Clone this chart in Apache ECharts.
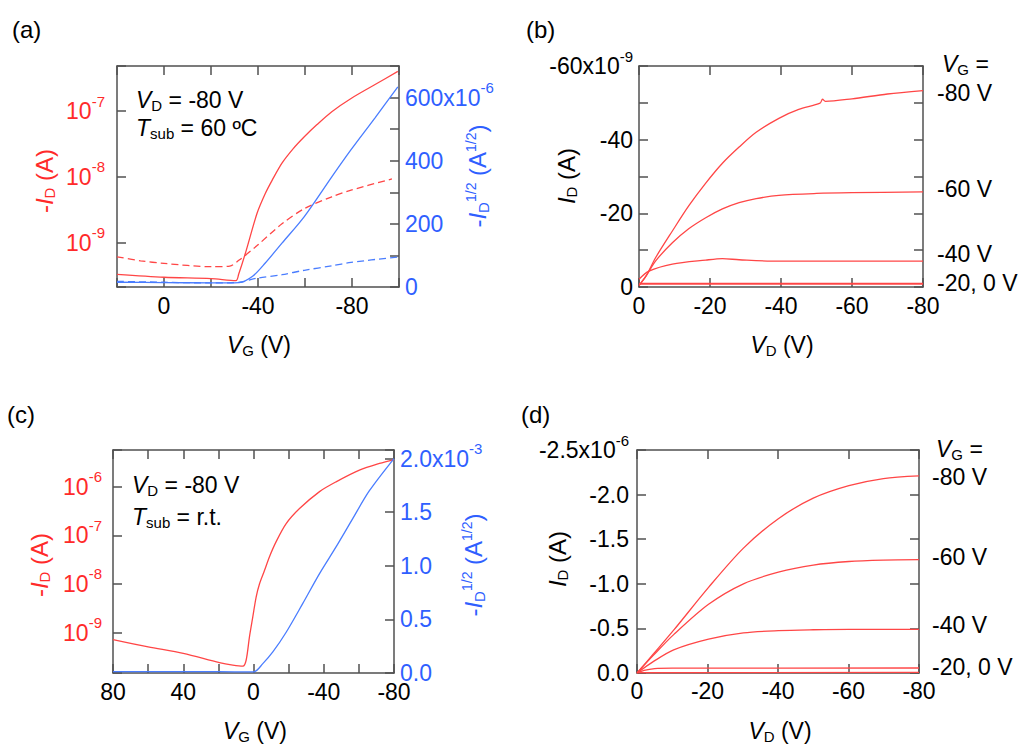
<!DOCTYPE html>
<html><head><meta charset="utf-8">
<script src="https://cdn.jsdelivr.net/npm/echarts@6/dist/echarts.min.js"></script>
<style>html,body{margin:0;padding:0;background:#fff;}#c{width:1024px;height:752px;}</style>
</head><body><div id="c"></div>
<script>
// ---------------- DATA ----------------
// Panel (a): transfer curve, VD = -80 V, Tsub = 60 C
const aSolidVG = [20, 0, -20, -30.6, -31.8, -34.6, -39.6, -43.1, -46, -50.2, -55, -59.7, -65, -71.4, -79.6, -90, -99.5];
const aSolidId = [3.34e-10, 3.02e-10, 2.88e-10, 2.69e-10, 3.39e-10, 6.92e-10, 2.82e-9, 5.62e-9, 8.9e-9, 1.62e-8, 2.69e-8, 4.07e-8, 6.17e-8, 9.77e-8, 1.55e-7, 2.54e-7, 3.98e-7];
const aDashVG = [20, 10, 0, -20, -28, -32, -39.6, -50.2, -59.7, -71.4, -79.6, -97];
const aDashId = [6.17e-10, 5.37e-10, 4.9e-10, 4.37e-10, 4.47e-10, 5.5e-10, 9.12e-10, 1.95e-9, 3.31e-9, 5.01e-9, 6.31e-9, 9.33e-9];
const aSqrtSolidVG = [20, 0, -20, -32, -37.7, -43.1, -50.2, -59.7, -71.4, -79.6, -89.8, -99.5];
const aSqrtSolid = [15, 14, 13, 14, 34, 76, 139, 223, 349, 435, 536, 634];      // x1e-6 A^1/2
const aSqrtDashVG = [20, 0, -20, -32, -39.6, -50.2, -59.7, -71.4, -79.6, -99.5];
const aSqrtDash = [18, 15, 13, 15, 28, 39, 53, 67, 78, 95];                       // x1e-6 A^1/2
const aXTicks = [0, -40, -80];

// Panel (b): output curves, x1e-9 A
const bVD80 = [0, -2, -4.7, -9.4, -14, -18.8, -23.5, -28.2, -33, -39.4, -45, -51, -51.7, -52.5, -60, -70, -80];
const bId80 = [-0.4, -3, -8, -15.2, -22, -28.2, -33.6, -38.0, -42.0, -45.8, -48.2, -49.9, -51.0, -50.4, -51.1, -52.4, -53.3];
const bVD60 = [0, -2, -4.7, -9.4, -14, -18.8, -23.5, -28.2, -33, -39.4, -50, -60, -80];
const bId60 = [-0.4, -3, -7.1, -12, -15.8, -18.8, -21.2, -22.9, -24.0, -24.9, -25.4, -25.6, -25.8];
const bVD40 = [0, -2.8, -9.4, -18.8, -23.5, -28.2, -39.4, -60, -80];
const bId40 = [-2.1, -4.3, -6.2, -7.3, -7.7, -7.4, -7.0, -7.0, -7.0];
const bVD20 = [0, -80];
const bId20 = [-1.0, -1.0];
const bVD0 = [0, -80];
const bId0 = [-0.8, -0.8];

// Panel (c): transfer curve, VD = -80 V, Tsub = r.t.
const cVG = [80, 60, 40, 19.4, 11.8, 6, 4.2, 2.3, 0.4, -1.5, -3.4, -6.3, -9.1, -12.9, -18.6, -26.2, -37.6, -47, -60.3, -71.7, -80];
const cId = [7.18e-10, 5.07e-10, 3.72e-10, 2.4e-10, 2.14e-10, 2.04e-10, 2.69e-10, 8.13e-10, 2.09e-9, 5.37e-9, 1.0e-8, 1.91e-8, 3.63e-8, 7.41e-8, 1.74e-7, 3.55e-7, 7.94e-7, 1.26e-6, 2.19e-6, 3.02e-6, 3.63e-6];
const cSqrtVG = [80, 40, 20, 0, -5.3, -11, -18.6, -28, -37.6, -47, -56.5, -66, -80];
const cSqrt = [0.012, 0.012, 0.012, 0.01, 0.087, 0.196, 0.38, 0.647, 0.927, 1.176, 1.44, 1.70, 2.0];   // x1e-3 A^1/2
const cXTicks = [80, 40, 0, -40, -80];

// Panel (d): output curves, x1e-6 A
const dVD = [0, -4.7, -10.4, -20.3, -30.2, -40.1, -50, -60.1, -69.9, -80];
const dId80 = [0, -0.216, -0.48, -0.96, -1.40, -1.73, -1.96, -2.10, -2.18, -2.21];
const dId60 = [0, -0.2, -0.43, -0.77, -1.00, -1.13, -1.21, -1.25, -1.265, -1.27];
const dId40 = [0, -0.13, -0.26, -0.38, -0.45, -0.475, -0.485, -0.49, -0.49, -0.49];
const dVD20 = [0, -2, -5, -10, -80];
const dId20 = [0, -0.03, -0.05, -0.055, -0.056];
const dVD0 = [0, -80];
const dId0 = [-0.003, -0.007];

const vgLabels = ['-80 V', '-60 V', '-40 V', '-20, 0 V'];

// ---------------- STYLE ----------------
const FONT = '"Liberation Sans", Arial, Helvetica, sans-serif';
const RED_LINE = '#ff4646', RED_TXT = '#ff2a2a', BLUE_LINE = '#4a7dff', BLUE_TXT = '#2f5fff', AXC = '#505050';
const FS = 23;

function supRich(color) {
  return { s: { fontSize: 15, fontFamily: FONT, color: color, verticalAlign: 'top', padding: [0, 0, 20, 0] } };
}
function axis(o) {
  const lab = Object.assign({ show: true, fontFamily: FONT, fontSize: FS, color: '#000', margin: 7 }, o.axisLabel || {});
  lab.rich = supRich(lab.color);
  const a = Object.assign({
    type: 'value',
    axisLine: { show: true, onZero: false, lineStyle: { color: AXC, width: 1.5 } },
    axisTick: { show: true, inside: true, length: 9, lineStyle: { color: AXC, width: 1.5 } },
    splitLine: { show: false }
  }, o);
  a.axisLabel = lab;
  return a;
}
const zip = (xs, ys) => xs.map((x, i) => [x, ys[i]]);
function line(xs, ys, xi, yi, color, dashed) {
  return { type: 'line', xAxisIndex: xi, yAxisIndex: yi, data: zip(xs, ys),
    showSymbol: false, symbol: 'none', smooth: 0.3,
    lineStyle: { color: color, width: 1.3, type: dashed ? [7, 4] : 'solid' }, itemStyle: { color: color } };
}
const logFmt = v => { const l = Math.log10(v), r = Math.round(l); return Math.abs(l - r) < 1e-6 ? '10{s|' + r + '}' : ''; };

const grids = [
  { left: 117, top: 66, width: 282, height: 221 },
  { left: 639, top: 66, width: 284, height: 221 },
  { left: 113, top: 450, width: 281, height: 223 },
  { left: 637, top: 450, width: 282, height: 223 }
];

const xAxis = [
  axis({ gridIndex: 0, position: 'bottom', min: -100, max: 20, interval: 20, inverse: true,
    axisLabel: { margin: 7, formatter: v => aXTicks.indexOf(v) >= 0 ? String(v) : '' } }),
  axis({ gridIndex: 0, position: 'top', min: -100, max: 20, interval: 20, inverse: true, axisLabel: { show: false } }),
  axis({ gridIndex: 1, position: 'bottom', min: -80, max: 0, interval: 20, inverse: true, axisLabel: { margin: 7 } }),
  axis({ gridIndex: 1, position: 'top', min: -80, max: 0, interval: 20, inverse: true, axisLabel: { show: false } }),
  axis({ gridIndex: 2, position: 'bottom', min: -80, max: 80, interval: 20, inverse: true,
    axisLabel: { margin: 7, formatter: v => cXTicks.indexOf(v) >= 0 ? String(v) : '' } }),
  axis({ gridIndex: 2, position: 'top', min: -80, max: 80, interval: 20, inverse: true, axisLabel: { show: false } }),
  axis({ gridIndex: 3, position: 'bottom', min: -80, max: 0, interval: 20, inverse: true, axisLabel: { margin: 6 } }),
  axis({ gridIndex: 3, position: 'top', min: -80, max: 0, interval: 20, inverse: true, axisLabel: { show: false } })
];

const yAxis = [
  axis({ gridIndex: 0, type: 'log', logBase: 10, position: 'left', min: 2.15e-10, max: 4.81e-7,
    axisLabel: { color: RED_TXT, margin: 12, formatter: logFmt } }),
  axis({ gridIndex: 0, position: 'right', min: 0, max: 700, interval: 100,
    axisLabel: { color: BLUE_TXT, margin: 6, formatter: v => v % 200 === 0 ? (v === 600 ? '600x10{s|-6}' : String(v)) : '' } }),
  axis({ gridIndex: 1, position: 'left', min: -60, max: 0, interval: 10, inverse: true,
    axisLabel: { margin: 6, formatter: v => v % 20 === 0 ? (v === -60 ? '-60x10{s|-9}' : String(v)) : '' } }),
  axis({ gridIndex: 1, position: 'right', min: -60, max: 0, interval: 10, inverse: true, axisLabel: { show: false } }),
  axis({ gridIndex: 2, type: 'log', logBase: 10, position: 'left', min: 1.47e-10, max: 5.70e-6,
    axisLabel: { color: RED_TXT, margin: 11, formatter: logFmt } }),
  axis({ gridIndex: 2, position: 'right', min: 0, max: 2.08, interval: 0.5,
    axisLabel: { color: BLUE_TXT, margin: 6, formatter: v => (Math.abs(v * 2 - Math.round(v * 2)) < 1e-9) ? (Math.abs(v - 2) < 1e-9 ? '2.0x10{s|-3}' : v.toFixed(1)) : '' } }),
  axis({ gridIndex: 3, position: 'left', min: -2.5, max: 0, interval: 0.5, inverse: true,
    axisLabel: { margin: 8, formatter: v => Math.abs(v + 2.5) < 1e-9 ? '-2.5x10{s|-6}' : v.toFixed(1) } }),
  axis({ gridIndex: 3, position: 'right', min: -2.5, max: 0, interval: 0.5, inverse: true, axisLabel: { show: false } })
];

const series = [
  line(aSolidVG, aSolidId, 0, 0, RED_LINE, false),
  line(aDashVG, aDashId, 0, 0, RED_LINE, true),
  line(aSqrtSolidVG, aSqrtSolid, 0, 1, BLUE_LINE, false),
  line(aSqrtDashVG, aSqrtDash, 0, 1, BLUE_LINE, true),
  line(bVD80, bId80, 2, 2, RED_LINE, false),
  line(bVD60, bId60, 2, 2, RED_LINE, false),
  line(bVD40, bId40, 2, 2, RED_LINE, false),
  line(bVD20, bId20, 2, 2, RED_LINE, false),
  line(bVD0, bId0, 2, 2, RED_LINE, false),
  line(cVG, cId, 4, 4, RED_LINE, false),
  line(cSqrtVG, cSqrt, 4, 5, BLUE_LINE, false),
  line(dVD, dId80, 6, 6, RED_LINE, false),
  line(dVD, dId60, 6, 6, RED_LINE, false),
  line(dVD, dId40, 6, 6, RED_LINE, false),
  line(dVD20, dId20, 6, 6, RED_LINE, false),
  line(dVD0, dId0, 6, 6, RED_LINE, false)
];

// ---------------- TEXT ----------------
function txt(x, y, text, opt) {
  opt = opt || {};
  const size = opt.size || FS, color = opt.color || '#000', al = opt.align || 'left';
  return { type: 'text', x: x, y: y, rotation: opt.rot ? Math.PI / 2 : 0, silent: true,
    style: { text: text, x: 0, y: 0, fill: color, fontSize: size, fontFamily: FONT,
      align: al, textAlign: al, verticalAlign: 'middle', textVerticalAlign: 'middle',
      rich: {
        i: { fontStyle: 'italic', fontSize: size, fontFamily: FONT, fill: color },
        sub: { fontSize: 15, fontFamily: FONT, fill: color, verticalAlign: 'bottom', padding: [11, 0, 0, 0] },
        sup: { fontSize: 14, fontFamily: FONT, fill: color, verticalAlign: 'top', padding: [0, 0, 13, 0] }
      } } };
}
const graphic = [
  txt(12, 29, '(a)', { size: 24 }), txt(526, 29, '(b)', { size: 24 }),
  txt(7, 414, '(c)', { size: 24 }), txt(521, 414, '(d)', { size: 24 }),
  txt(136, 100, '{i|V}{sub|D} = -80 V'), txt(136, 128, '{i|T}{sub|sub} = 60 ºC'),
  txt(132, 485, '{i|V}{sub|D} = -80 V'), txt(132, 517, '{i|T}{sub|sub} = r.t.'),
  txt(259, 345, '{i|V}{sub|G} (V)', { align: 'center' }),
  txt(782, 345, '{i|V}{sub|D} (V)', { align: 'center' }),
  txt(255, 731, '{i|V}{sub|G} (V)', { align: 'center' }),
  txt(780, 731, '{i|V}{sub|D} (V)', { align: 'center' }),
  txt(44, 181, '-{i|I}{sub|D} (A)', { align: 'center', rot: true, color: RED_TXT, size: 24 }),
  txt(39, 565, '-{i|I}{sub|D} (A)', { align: 'center', rot: true, color: RED_TXT, size: 24 }),
  txt(477, 176, '-{i|I}{sub|D}{sup|1/2} (A{sup|1/2})', { align: 'center', rot: true, color: BLUE_TXT, size: 24 }),
  txt(473, 565, '-{i|I}{sub|D}{sup|1/2} (A{sup|1/2})', { align: 'center', rot: true, color: BLUE_TXT, size: 24 }),
  txt(566, 176, '{i|I}{sub|D} (A)', { align: 'center', rot: true, size: 24 }),
  txt(557, 559, '{i|I}{sub|D} (A)', { align: 'center', rot: true, size: 24 }),
  txt(942, 64, '{i|V}{sub|G} ='),
  txt(937, 93, vgLabels[0]), txt(937, 189, vgLabels[1]), txt(937, 254, vgLabels[2]), txt(937, 283, vgLabels[3]),
  txt(936, 449, '{i|V}{sub|G} ='),
  txt(932, 477, vgLabels[0]), txt(932, 557, vgLabels[1]), txt(932, 625, vgLabels[2]), txt(932, 667, vgLabels[3])
];

const chart = echarts.init(document.getElementById('c'), null, { renderer: 'svg' });
chart.setOption({
  animation: false,
  grid: grids,
  xAxis: xAxis,
  yAxis: yAxis,
  series: series,
  graphic: graphic
});
</script></body></html>
